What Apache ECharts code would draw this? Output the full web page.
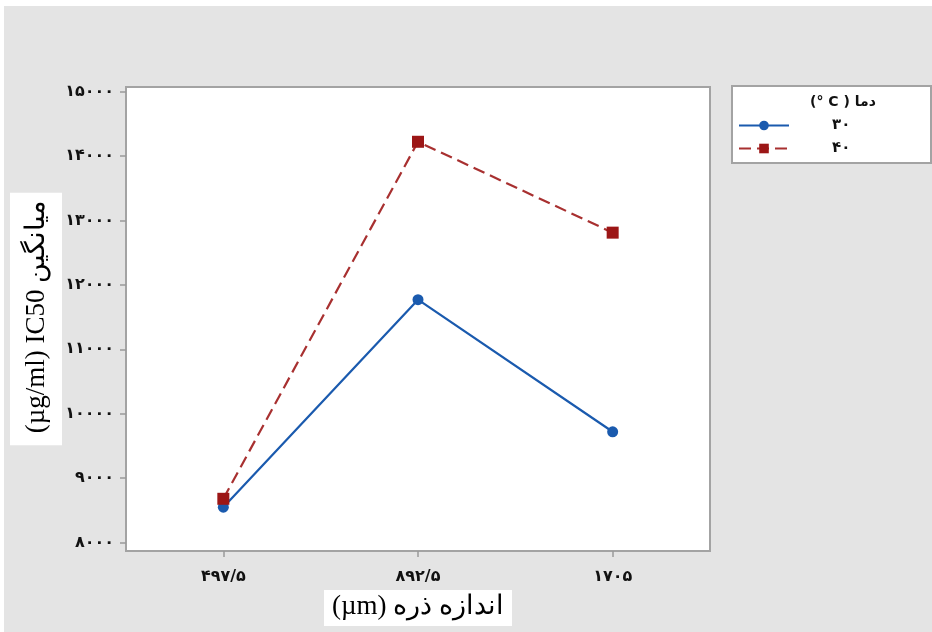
<!DOCTYPE html>
<html><head><meta charset="utf-8">
<script src="https://cdn.jsdelivr.net/npm/echarts@6/dist/echarts.min.js"></script>
<style>html,body{margin:0;padding:0;background:#fff}#c{width:932px;height:632px}</style>
</head><body><div id="c"></div>
<script>
const categories = ['۴۹۷/۵', '۸۹۲/۵', '۱۷۰۵'];
const seriesNames = ['۳۰', '۴۰'];
const series30 = [8550, 11770, 9720];
const series40 = [8680, 14220, 12810];
const yTicks = [8000, 9000, 10000, 11000, 12000, 13000, 14000, 15000];
const xTitle = '(µm) اندازه ذره';
const yTitle = '(µg/ml) IC50 میانگین';
const legendTitle = '(° C ) دما';

const faDigits = '۰۱۲۳۴۵۶۷۸۹';
const toFa = v => String(v).replace(/[0-9]/g, d => faDigits[+d]);

const chart = echarts.init(document.getElementById('c'), null, {renderer: 'canvas'});
chart.setOption({
  animation: false,
  backgroundColor: '#e4e4e4',
  grid: {
    left: 126, top: 87, right: 222, bottom: 81,
    outerBoundsMode: 'none', containLabel: false,
    show: true, backgroundColor: '#fff', borderColor: '#a3a3a3', borderWidth: 2
  },
  xAxis: {
    type: 'category',
    data: categories,
    boundaryGap: true,
    axisLine: {show: false},
    axisTick: {show: true, alignWithLabel: true, length: 6, lineStyle: {color: '#999', width: 1.5}},
    axisLabel: {margin: 18, color: '#111', fontSize: 16, fontWeight: 'bold', fontFamily: 'DejaVu Sans'},
    name: xTitle,
    nameLocation: 'middle',
    nameGap: 36,
    nameTextStyle: {
      fontFamily: 'Liberation Serif, DejaVu Serif, serif', fontSize: 27, color: '#000',
      backgroundColor: '#fff', padding: [4, 8, 5, 8]
    }
  },
  yAxis: {
    type: 'value',
    min: 7870, max: 15070,
    splitLine: {show: false},
    axisLine: {show: false},
    axisTick: {show: true, length: 6, customValues: yTicks, lineStyle: {color: '#999', width: 1.5}},
    axisLabel: {
      customValues: yTicks, margin: 12, color: '#111', fontSize: 16, fontWeight: 'bold',
      fontFamily: 'DejaVu Sans', formatter: v => toFa(v)
    },
    name: yTitle,
    nameLocation: 'middle',
    nameGap: 64,
    nameRotate: 90,
    nameMoveOverlap: false,
    nameTextStyle: {
      fontFamily: 'Liberation Serif, DejaVu Serif, serif', fontSize: 27, color: '#000',
      backgroundColor: '#fff', padding: [13, 8, 12, 12]
    }
  },
  legend: {
    orient: 'vertical',
    left: 738, top: 118, padding: 0,
    itemWidth: 50, itemHeight: 12, itemGap: 8,
    data: seriesNames,
    textStyle: {fontSize: 15, fontWeight: 'bold', color: '#111', fontFamily: 'DejaVu Sans', padding: [0, 0, 0, 38]}
  },
  graphic: [
    {type: 'rect', z: -10, shape: {x: 0, y: 0, width: 932, height: 6}, style: {fill: '#fff'}},
    {type: 'rect', z: -10, shape: {x: 0, y: 0, width: 4, height: 632}, style: {fill: '#fff'}},
    {type: 'rect', z: 1, shape: {x: 732, y: 86, width: 199, height: 77}, style: {fill: '#fff', stroke: '#a3a3a3', lineWidth: 2}},
    {type: 'text', z: 2, x: 843, y: 102, style: {text: legendTitle, fontSize: 14, fontWeight: 'bold', fill: '#111', fontFamily: 'DejaVu Sans', align: 'center', verticalAlign: 'middle'}}
  ],
  series: [
    {
      name: seriesNames[0], type: 'line', data: series30,
      symbol: 'circle', symbolSize: 11,
      itemStyle: {color: '#1a5aae'},
      lineStyle: {color: '#1a5aae', width: 2.2}
    },
    {
      name: seriesNames[1], type: 'line', data: series40,
      symbol: 'rect', symbolSize: 12,
      itemStyle: {color: '#9c1616'},
      lineStyle: {color: '#a83030', width: 2.2, type: [12, 6]}
    }
  ]
});
</script></body></html>
